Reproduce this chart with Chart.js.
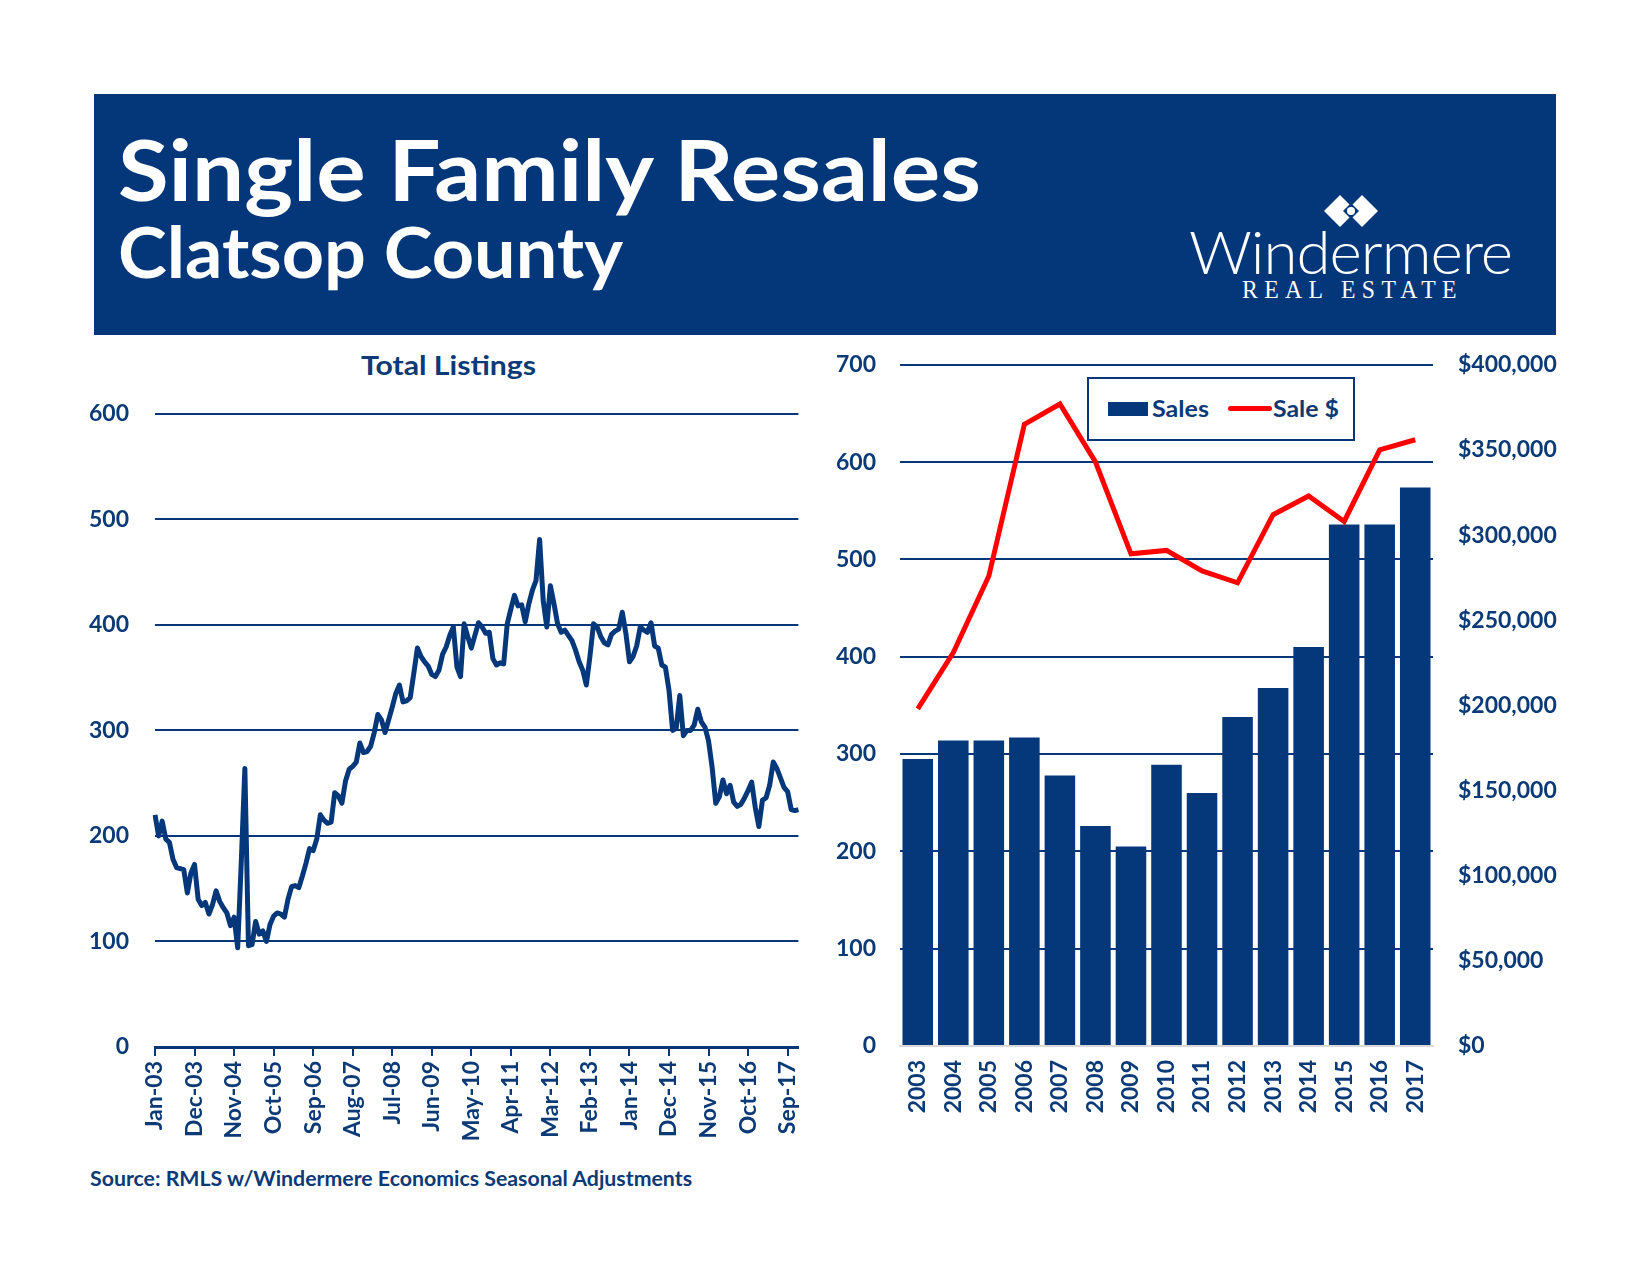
<!DOCTYPE html>
<html>
<head>
<meta charset="utf-8">
<script src="https://cdn.jsdelivr.net/npm/chart.js@4.4.1/dist/chart.umd.min.js"></script>
<style>
  body { margin: 0; background: #fff; width: 1650px; height: 1275px; position: relative; overflow: hidden; }
  .t { position: absolute; white-space: nowrap; line-height: 1; transform-origin: left top; display: inline-block; }
  .lato { font-family: Lato, "Open Sans", sans-serif; }
  #header { position: absolute; left: 94px; top: 94px; width: 1462px; height: 241px; background: #03377a; }
  canvas { position: absolute; }
  #legend { position: absolute; left: 1087px; top: 377px; width: 264px; height: 60px; border: 2px solid #04387a; background: #fff; }
</style>
</head>
<body>
<div id="header"></div>
<div class="t lato" data-w="863" style="left:118px; top:126px; font-size:85px; font-weight:700; color:#fff;">Single Family Resales</div>
<div class="t lato" data-w="505" style="left:118px; top:216px; font-size:70px; font-weight:700; color:#fff;">Clatsop County</div>

<svg style="position:absolute; left:0; top:0;" width="1650" height="340">
  <polygon points="1340,195 1356,211 1340,227 1324,211" fill="#fff"/>
  <polygon points="1362,195 1378,211 1362,227 1346,211" fill="#fff"/>
  <polygon points="1351,203 1359,211 1351,219 1343,211" fill="#03377a"/>
  <circle cx="1351" cy="211" r="4" fill="#fff"/>
</svg>
<div class="t" data-w="323" style="left:1189px; top:221px; font-size:60px; font-weight:300; font-family:Lato, sans-serif; color:#fff; letter-spacing:-1px;">Windermere</div>
<div class="t" data-w="221" style="left:1242px; top:277px; font-size:26px; font-family:'Liberation Serif', serif; color:#fff; letter-spacing:7px;">REAL ESTATE</div>

<div class="t lato" data-w="175" style="left:361px; top:352px; font-size:26px; font-weight:700; color:#0b3a77;">Total Listings</div>

<canvas id="listings" width="751" height="786" style="left:80px; top:374px;"></canvas>
<canvas id="sales" width="760" height="834" style="left:820px; top:326px;"></canvas>

<div id="legend"></div>
<div style="position:absolute; left:1108px; top:402px; width:40px; height:14px; background:#04387a;"></div>
<div class="t lato" data-w="57" style="left:1152px; top:398px; font-size:22px; font-weight:700; color:#0b3a77;">Sales</div>
<div style="position:absolute; left:1228px; top:406px; width:44px; height:5px; border-radius:3px; background:#ff0000;"></div>
<div class="t lato" data-w="66" style="left:1273px; top:398px; font-size:22px; font-weight:700; color:#0b3a77;">Sale $</div>

<div class="t lato" data-w="602" style="left:90px; top:1167px; font-size:21px; font-weight:700; color:#0b3a77;">Source: RMLS w/Windermere Economics Seasonal Adjustments</div>

<script>
const blue = '#04387a';
const textBlue = '#0b3a77';

// Total Listings, monthly Jan-03 .. Dec-17
const monthNames = ['Jan', 'Feb', 'Mar', 'Apr', 'May', 'Jun', 'Jul', 'Aug', 'Sep', 'Oct', 'Nov', 'Dec'];
const listingYears = [2003, 2004, 2005, 2006, 2007, 2008, 2009, 2010, 2011, 2012, 2013, 2014, 2015, 2016, 2017];
const listings = [
    220, 200, 214, 197, 194, 178, 170, 169, 168, 146, 165, 173,
    140, 134, 137, 126, 135, 148, 138, 132, 127, 115, 123, 94,
    175, 264, 96, 97, 119, 107, 110, 100, 116, 124, 127, 126,
    123, 140, 152, 153, 151, 162, 174, 188, 186, 197, 220, 215,
    212, 213, 241, 238, 231, 252, 263, 266, 270, 288, 279, 280,
    285, 298, 315, 310, 298, 310, 322, 335, 343, 327, 328, 331,
    354, 378, 370, 365, 361, 353, 351, 357, 372, 379, 390, 398,
    360, 351, 401, 389, 378, 390, 402, 398, 392, 393, 368, 362,
    364, 363, 401, 415, 428, 418, 419, 403, 420, 433, 442, 481,
    423, 398, 437, 420, 401, 393, 395, 390, 385, 376, 365, 357,
    343, 370, 401, 398, 389, 383, 381, 391, 394, 396, 412, 392,
    365, 370, 380, 398, 395, 393, 402, 380, 378, 362, 360, 338,
    300, 302, 333, 295, 300, 300, 305, 320, 308, 303, 290, 265,
    231, 237, 253, 240, 248, 232, 228, 230, 236, 243, 251, 227,
    209, 234, 236, 248, 270, 264, 255, 246, 242, 225, 224, 225
];
const listingTicks = [0, 100, 200, 300, 400, 500, 600];

// Annual sales and average sale price
const years = ['2003', '2004', '2005', '2006', '2007', '2008', '2009', '2010', '2011', '2012', '2013', '2014', '2015', '2016', '2017'];
const sales = [295, 314, 314, 317, 278, 226, 205, 289, 260, 338, 368, 410, 536, 536, 574];
const salePrice = [198000, 231000, 276000, 365000, 377000, 343000, 289000, 291000, 279000, 272000, 312000, 323000, 308000, 350000, 356000];

const months = [];
listingYears.forEach(y => monthNames.forEach(m => months.push(m + '-' + String(y).slice(2))));

const axisFont = { family: 'Lato', size: 23, weight: 'bold' };

new Chart(document.getElementById('listings'), {
    type: 'line',
    data: {
        labels: months,
        datasets: [{
            data: listings,
            borderColor: blue,
            borderWidth: 5,
            pointRadius: 0,
            tension: 0,
            borderJoinStyle: 'round'
        }]
    },
    options: {
        responsive: false,
        animation: false,
        devicePixelRatio: 1,
        layout: { padding: { top: 18, right: 11, left: 0, bottom: 0 } },
        plugins: { legend: { display: false }, tooltip: { enabled: false } },
        scales: {
            x: {
                offset: false,
                grid: {
                    drawOnChartArea: false,
                    tickLength: 9,
                    lineWidth: 2,
                    color: ctx => (ctx.index % 11 === 0 ? blue : 'rgba(0,0,0,0)')
                },
                border: { color: blue, width: 3 },
                ticks: {
                    autoSkip: false,
                    minRotation: 90,
                    maxRotation: 90,
                    padding: 5,
                    color: textBlue,
                    font: axisFont,
                    callback: function (v, i) { return i % 11 === 0 ? this.getLabelForValue(v) : ''; }
                },
                afterFit: s => { s.height = 113; }
            },
            y: {
                min: listingTicks[0],
                max: listingTicks[listingTicks.length - 1],
                grid: { color: blue, lineWidth: 2, drawTicks: false },
                border: { display: false },
                ticks: { stepSize: 100, padding: 26, color: textBlue, font: axisFont },
                afterFit: s => { s.width = 75; }
            }
        }
    }
});

new Chart(document.getElementById('sales'), {
    type: 'bar',
    data: {
        labels: years,
        datasets: [{
            type: 'line',
            label: 'Sale $',
            data: salePrice,
            yAxisID: 'y2',
            borderColor: '#ff0000',
            borderWidth: 5,
            pointRadius: 0,
            tension: 0,
            order: 0
        }, {
            type: 'bar',
            label: 'Sales',
            data: sales,
            yAxisID: 'y',
            backgroundColor: blue,
            categoryPercentage: 1,
            barPercentage: 0.86,
            order: 1
        }]
    },
    options: {
        responsive: false,
        animation: false,
        devicePixelRatio: 1,
        layout: { padding: { top: 34, right: 0, left: 0, bottom: 0 } },
        plugins: { legend: { display: false }, tooltip: { enabled: false } },
        scales: {
            x: {
                grid: { display: false, drawTicks: false },
                border: { color: '#d9d9d9', width: 2 },
                ticks: { minRotation: 90, maxRotation: 90, padding: 14, color: textBlue, font: axisFont },
                afterFit: s => { s.height = 114; }
            },
            y: {
                position: 'left',
                min: 0,
                max: 700,
                grid: { color: blue, lineWidth: 2, drawTicks: false },
                border: { display: false },
                ticks: { stepSize: 100, padding: 24, color: textBlue, font: axisFont },
                afterFit: s => { s.width = 80; }
            },
            y2: {
                position: 'right',
                min: 0,
                max: 400000,
                grid: { display: false, drawTicks: false },
                border: { display: false },
                ticks: {
                    stepSize: 50000,
                    padding: 25,
                    color: textBlue,
                    font: axisFont,
                    callback: v => '$' + v.toLocaleString('en-US')
                },
                afterFit: s => { s.width = 147; }
            }
        }
    }
});

function fitText() {
    document.querySelectorAll('.t[data-w]').forEach(el => {
        el.style.transform = 'none';
        const w = el.getBoundingClientRect().width;
        el.style.transform = 'scaleX(' + (+el.dataset.w / w) + ')';
    });
}
fitText();
document.fonts.ready.then(fitText);
</script>
</body>
</html>
